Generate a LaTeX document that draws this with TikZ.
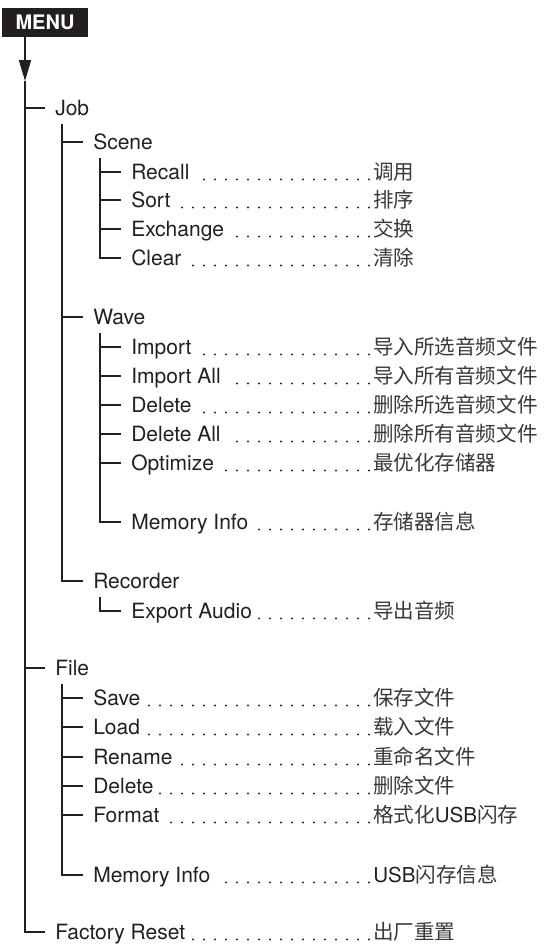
\documentclass[tikz,border=0pt]{standalone}
\usepackage{fontspec}
\setmainfont{TeX Gyre Heros}
\newfontfamily\cjk{Noto Sans CJK SC}
\usetikzlibrary{arrows.meta, calc}
\definecolor{ink}{HTML}{231F20}

\begin{document}
\begin{tikzpicture}[
        x=0.75pt, y=-0.75pt,
        menubox/.style={rectangle, fill=ink, text=white, font=\bfseries\fontsize{15}{15}\selectfont, minimum width=64.5pt, minimum height=21.75pt, inner sep=0pt},
        entry/.style={anchor=west, inner xsep=7.5pt, inner ysep=6pt, text height=11.25pt, text depth=0pt, text=ink, font=\fontsize{15.75}{18}\selectfont},
        zh/.style={anchor=west, inner xsep=3pt, inner ysep=6pt, text height=11.25pt, text depth=0pt, text=black!78, font=\cjk\fontsize{15.4}{18}\selectfont},
        wire/.style={draw=ink, line width=1.3pt},
        leader/.style={draw=black!85, line width=1.7pt, line cap=round, dash pattern=on 0pt off 8.25pt, shorten >=-3pt}
        ]

        \useasboundingbox (0,0) rectangle (547,947);

        \node[menubox] (menu) at (45,22.5) {MENU};
        \coordinate (tip) at (25,81);

        \node[entry] (job) at (45,108) {Job};
        \node[entry] (scene) at (83,142) {Scene};
        \node[entry] (recall) at (121,172) {Recall};
        \node[entry] (sort) at (121,200) {Sort};
        \node[entry] (exchange) at (121,229) {Exchange};
        \node[entry] (clear) at (121,258) {Clear};
        \node[entry] (wave) at (83,317) {Wave};
        \node[entry] (import) at (121,347) {Import};
        \node[entry] (importall) at (121,376) {Import All};
        \node[entry] (delete) at (121,405) {Delete};
        \node[entry] (deleteall) at (121,434) {Delete All};
        \node[entry] (optimize) at (121,463) {Optimize};
        \node[entry] (wavemem) at (121,522) {Memory Info};
        \node[entry] (recorder) at (83,581) {Recorder};
        \node[entry] (export) at (121,611) {Export Audio};
        \node[entry] (file) at (45,668) {File};
        \node[entry] (save) at (83,698) {Save};
        \node[entry] (load) at (83,727) {Load};
        \node[entry] (rename) at (83,757) {Rename};
        \node[entry] (filedelete) at (83,786) {Delete};
        \node[entry] (format) at (83,815) {Format};
        \node[entry] (filemem) at (83,875) {Memory Info};
        \node[entry] (reset) at (45,932) {Factory Reset};

        \node[zh] (recall-zh) at (369,172) {调用};
        \node[zh] (sort-zh) at (369,200) {排序};
        \node[zh] (exchange-zh) at (369,229) {交换};
        \node[zh] (clear-zh) at (369,258) {清除};
        \node[zh] (import-zh) at (369,347) {导入所选音频文件};
        \node[zh] (importall-zh) at (369,376) {导入所有音频文件};
        \node[zh] (delete-zh) at (369,405) {删除所选音频文件};
        \node[zh] (deleteall-zh) at (369,434) {删除所有音频文件};
        \node[zh] (optimize-zh) at (369,463) {最优化存储器};
        \node[zh] (wavemem-zh) at (369,522) {存储器信息};
        \node[zh] (export-zh) at (369,611) {导出音频};
        \node[zh] (save-zh) at (369,698) {保存文件};
        \node[zh] (load-zh) at (369,727) {载入文件};
        \node[zh] (rename-zh) at (369,757) {重命名文件};
        \node[zh] (filedelete-zh) at (369,786) {删除文件};
        \node[zh] (format-zh) at (369,815) {格式化{\normalfont\color{ink}USB}闪存};
        \node[zh] (filemem-zh) at (369,875) {{\normalfont\color{ink}USB}闪存信息};
        \node[zh] (reset-zh) at (369,932) {出厂重置};

        \coordinate (jobspine) at ([xshift=13pt]job.south west);
        \coordinate (scenespine) at ([xshift=13pt]scene.south west);
        \coordinate (wavespine) at ([xshift=13pt]wave.south west);
        \coordinate (recspine) at ([xshift=13pt]recorder.south west);
        \coordinate (filespine) at ([xshift=13pt]file.south west);

        \draw[wire, -{Triangle[length=15.75pt, width=9pt]}] (menu.south -| tip) -- (tip);
        \draw[wire] (tip) |- (reset.west);
        \draw[wire] (job.west) -- (job.west -| tip);
        \draw[wire] (file.west) -- (file.west -| tip);

        \draw[wire] (jobspine) |- (recorder.west);
        \draw[wire] (scene.west) -- (scene.west -| jobspine);
        \draw[wire] (wave.west) -- (wave.west -| jobspine);

        \draw[wire] (scenespine) |- (clear.west);
        \draw[wire] (recall.west) -- (recall.west -| scenespine);
        \draw[wire] (sort.west) -- (sort.west -| scenespine);
        \draw[wire] (exchange.west) -- (exchange.west -| scenespine);

        \draw[wire] (wavespine) |- (wavemem.west);
        \draw[wire] (import.west) -- (import.west -| wavespine);
        \draw[wire] (importall.west) -- (importall.west -| wavespine);
        \draw[wire] (delete.west) -- (delete.west -| wavespine);
        \draw[wire] (deleteall.west) -- (deleteall.west -| wavespine);
        \draw[wire] (optimize.west) -- (optimize.west -| wavespine);

        \draw[wire] (recspine) |- (export.west);

        \draw[wire] (filespine) |- (filemem.west);
        \draw[wire] (save.west) -- (save.west -| filespine);
        \draw[wire] (load.west) -- (load.west -| filespine);
        \draw[wire] (rename.west) -- (rename.west -| filespine);
        \draw[wire] (filedelete.west) -- (filedelete.west -| filespine);
        \draw[wire] (format.west) -- (format.west -| filespine);

        \draw[leader] (recall-zh.base west) -- (recall.base east);
        \draw[leader] (sort-zh.base west) -- (sort.base east);
        \draw[leader] (exchange-zh.base west) -- (exchange.base east);
        \draw[leader] (clear-zh.base west) -- (clear.base east);
        \draw[leader] (import-zh.base west) -- (import.base east);
        \draw[leader] (importall-zh.base west) -- (importall.base east);
        \draw[leader] (delete-zh.base west) -- (delete.base east);
        \draw[leader] (deleteall-zh.base west) -- (deleteall.base east);
        \draw[leader] (optimize-zh.base west) -- (optimize.base east);
        \draw[leader] (wavemem-zh.base west) -- (wavemem.base east);
        \draw[leader] (export-zh.base west) -- (export.base east);
        \draw[leader] (save-zh.base west) -- (save.base east);
        \draw[leader] (load-zh.base west) -- (load.base east);
        \draw[leader] (rename-zh.base west) -- (rename.base east);
        \draw[leader] (filedelete-zh.base west) -- (filedelete.base east);
        \draw[leader] (format-zh.base west) -- (format.base east);
        \draw[leader] (filemem-zh.base west) -- (filemem.base east);
        \draw[leader] (reset-zh.base west) -- (reset.base east);
    \end{tikzpicture}
\end{document}
